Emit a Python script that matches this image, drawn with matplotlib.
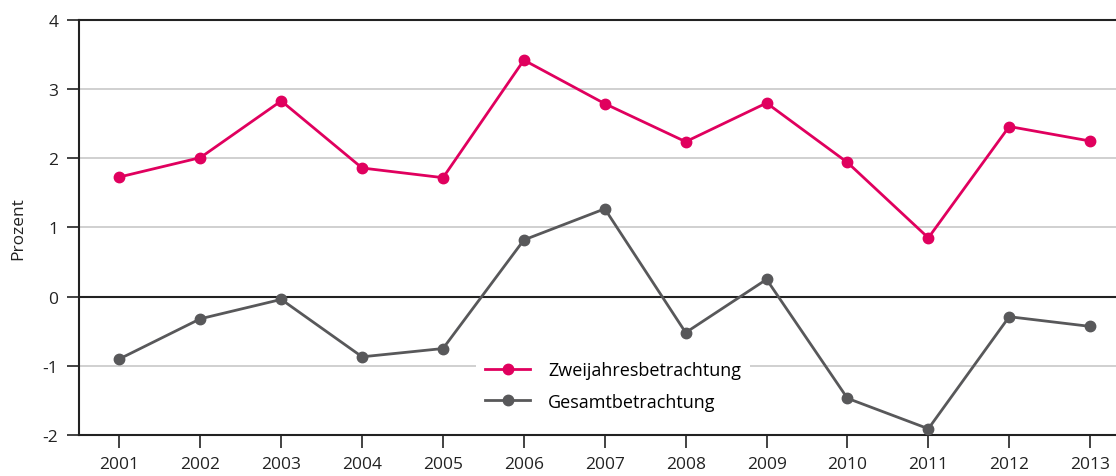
import numpy as np
import matplotlib.pyplot as plt

plt.rcParams['font.family'] = ['Open Sans', 'DejaVu Sans']

# data
years = [2001, 2002, 2003, 2004, 2005, 2006, 2007, 2008, 2009, 2010, 2011, 2012, 2013]
zweijahres = [1.73, 2.01, 2.83, 1.86, 1.72, 3.42, 2.79, 2.24, 2.80, 1.94, 0.85, 2.46, 2.25]
gesamt = [-0.90, -0.32, -0.04, -0.87, -0.75, 0.82, 1.27, -0.52, 0.25, -1.47, -1.91, -0.29, -0.43]

pink = '#E0005E'
grey = '#58585A'

fig = plt.figure(figsize=(11.16, 4.77), dpi=100)
ax = fig.add_axes([0.0708, 0.086, 0.9292, 0.870])

# grid lines
for v in [-1, 1, 2, 3]:
    ax.axhline(v, color='#C8C8C8', lw=1.2, zorder=1)
ax.axhline(0, color='#222222', lw=1.5, zorder=2)
ax.axhline(4, color='#222222', lw=1.5, zorder=2, clip_on=False)

ax.plot(years, zweijahres, color=pink, lw=2, marker='o', ms=7.5,
        label='Zweijahresbetrachtung', zorder=4, clip_on=False)
ax.plot(years, gesamt, color=grey, lw=2, marker='o', ms=7.5,
        label='Gesamtbetrachtung', zorder=4, clip_on=False)

ax.set_xlim(2000.5, 2013.32)
ax.set_ylim(-2, 4)
ax.set_xticks(years)
ax.set_yticks(range(-2, 5))
ax.set_yticklabels([str(v) for v in range(-2, 5)])

for s in ['top', 'right']:
    ax.spines[s].set_visible(False)
for s in ['left', 'bottom']:
    ax.spines[s].set_color('#222222')
    ax.spines[s].set_linewidth(1.5)

ax.tick_params(axis='both', direction='out', length=9, width=1.2,
               color='#222222', labelsize=12.5, labelcolor='#222222', pad=6)
ax.set_ylabel('Prozent', fontsize=12.5, color='#222222', labelpad=12)

leg = ax.legend(loc='center', bbox_to_anchor=(0.515, 0.118), frameon=True,
                fontsize=13, handlelength=2.5, borderpad=0.5,
                labelspacing=0.75, handletextpad=1.0)
leg.get_frame().set_facecolor('white')
leg.get_frame().set_edgecolor('none')
leg.get_frame().set_alpha(1)
leg.set_zorder(5)

fig.savefig('out.png', dpi=100)
